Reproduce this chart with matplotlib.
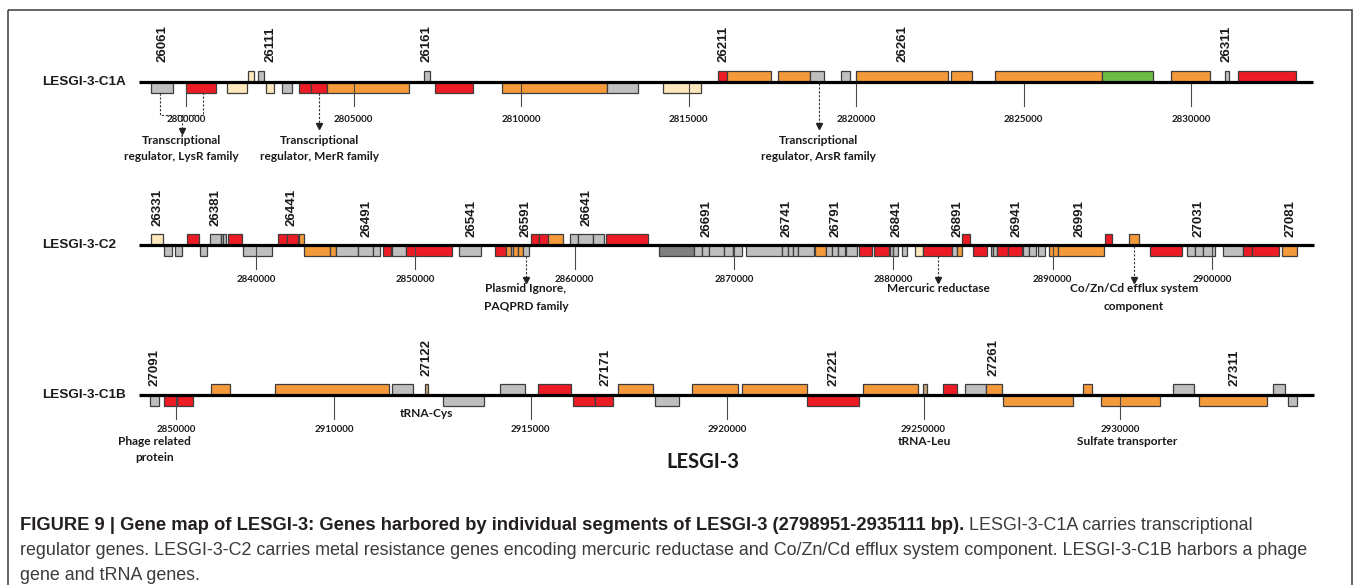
import matplotlib
matplotlib.use("Agg")
import matplotlib.pyplot as plt
from matplotlib.patches import Rectangle

W, H, DPI = 1358, 585, 100

# ---------------------------------------------------------------- data
# gene kinds: R red, O orange, G grey, D dark grey, C cream, N green, T tRNA
KIND_COLORS = {"R": "#ED1C24", "O": "#F49A3A", "G": "#BFBFBF", "D": "#808080",
               "C": "#FDE7BC", "N": "#6CBD45", "T": "#C8A77A"}

# LESGI-3-C1A
c1a_span = (2798597, 2833642)
c1a_start = [2798951, 2799991, 2801215, 2801860, 2802140, 2802388, 2802866, 2803382,
             2803722, 2804218, 2807095, 2807442, 2809424, 2812558, 2814248, 2815872,
             2816140, 2817681, 2818627, 2819552, 2820000, 2822836, 2824149, 2827343,
             2829393, 2831015, 2831412]
c1a_end = [2799603, 2800896, 2801821, 2802030, 2802337, 2802627, 2803164, 2803722,
           2804218, 2806648, 2807293, 2808576, 2812558, 2813483, 2815373, 2816140,
           2817463, 2818627, 2819054, 2819821, 2822737, 2823453, 2827343, 2828856,
           2830567, 2831143, 2833134]
c1a_strand = [-1, -1, -1, 1, 1, -1, -1, -1, -1, -1, 1, -1, -1, -1, -1, 1,
              1, 1, 1, 1, 1, 1, 1, 1, 1, 1, 1]
c1a_kind = ["G", "R", "C", "C", "G", "C", "G", "R", "R", "O", "G", "R", "O", "G", "C", "R",
            "O", "O", "G", "G", "O", "O", "O", "N", "O", "G", "R"]
c1a_ticks = [2800000, 2805000, 2810000, 2815000, 2820000, 2825000, 2830000]
c1a_tick_labels = ["2800000", "2805000", "2810000", "2815000", "2820000", "2825000", "2830000"]
c1a_ids = ["26061", "26111", "26161", "26211", "26261", "26311"]
c1a_id_pos = [2799313, 2802528, 2807194, 2816030, 2821394, 2831066]

# LESGI-3-C2
c2_span = (2832657, 2906400)
c2_start = [2833410, 2834226, 2834916, 2835670, 2836504, 2837113, 2837785, 2837910, 2838262,
            2839165, 2841381, 2841964, 2842718, 2843031, 2844644, 2845002, 2846383, 2847362,
            2847971, 2848554, 2849414, 2852740, 2855000, 2855690, 2856004, 2856148, 2856462,
            2856738, 2857259, 2857780, 2858345, 2859688, 2860190, 2861169, 2861966, 2865292,
            2867508, 2868010, 2868449, 2869391, 2869918, 2870752, 2873031, 2873369, 2873683,
            2873997, 2875083, 2875754, 2876131, 2876545, 2877028, 2877844, 2878805, 2879790,
            2879997, 2880524, 2881359, 2881880, 2883662, 2883976, 2884327, 2885018, 2886110,
            2886273, 2886524, 2887214, 2888118, 2888513, 2889097, 2889788, 2890315, 2893283,
            2894789, 2896107, 2898411, 2898932, 2899453, 2900670, 2901925, 2902528, 2904373]
c2_end = [2834182, 2834709, 2835356, 2836404, 2836925, 2837785, 2837910, 2838098, 2839103,
          2841023, 2841964, 2842617, 2843031, 2844644, 2845002, 2846383, 2847362, 2847782,
          2848454, 2849414, 2852301, 2854121, 2855690, 2856004, 2856148, 2856462, 2856738,
          2857152, 2857780, 2858307, 2859249, 2860190, 2861169, 2861859, 2864583, 2867508,
          2868010, 2868449, 2869391, 2869918, 2870482, 2873031, 2873369, 2873683, 2873997,
          2875020, 2875754, 2876131, 2876545, 2876966, 2877738, 2878641, 2879746, 2879997,
          2880311, 2880838, 2881880, 2883662, 2883976, 2884290, 2884811, 2885859, 2886273,
          2886524, 2887214, 2888055, 2888513, 2888934, 2889518, 2890315, 2893239, 2893704,
          2895417, 2898097, 2898932, 2899453, 2900187, 2901925, 2902528, 2904203, 2905314]
c2_strand = ([1, -1, -1, 1, -1, 1, 1, 1, 1, -1, 1, 1, 1]
             + [-1] * 15 + [1] * 7 + [-1] * 25 + [1] + [-1] * 10 + [1, 1] + [-1] * 8)
c2_kind = ["C", "G", "G", "R", "G", "G", "G", "G", "R", "G", "R", "R", "O", "O", "O", "G",
           "G", "G", "R", "G", "R", "G", "R", "O", "G", "O", "O", "G", "R", "R", "O", "G",
           "G", "G", "R", "D", "G", "G", "G", "G", "G", "G", "G", "G", "G", "G", "O", "G",
           "G", "G", "G", "R", "R", "G", "G", "G", "C", "R", "G", "O", "R", "R", "G", "G",
           "R", "R", "G", "G", "G", "O", "O", "R", "O", "R", "G", "G", "G", "G", "R", "R", "O"]
c2_ticks = [2840000, 2850000, 2860000, 2870000, 2880000, 2890000, 2900000]
c2_tick_labels = ["2840000", "2850000", "2860000", "2870000", "2880000", "2890000", "2900000"]
c2_ids = ["26331", "26381", "26441", "26491", "26541", "26591", "26641", "26691",
          "26741", "26791", "26841", "26891", "26941", "26991", "27031", "27081"]
c2_id_pos = [2833787, 2837471, 2842241, 2846904, 2853537, 2856945, 2860755, 2868286,
             2873307, 2876382, 2880210, 2884014, 2887741, 2891714, 2899183, 2904938]

# LESGI-3-C1B
c1b_span = (2905038, 2934936)
c1b_start = [2905310, 2905674, 2905997, 2906870, 2908506, 2911476, 2912323, 2912766, 2914232,
             2915183, 2916089, 2916641, 2917234, 2918176, 2919117, 2920389, 2922028, 2923453,
             2924980, 2925504, 2926056, 2926583, 2927030, 2929051, 2929516, 2931356, 2932010,
             2933885, 2934282]
c1b_end = [2905555, 2905997, 2906420, 2907354, 2911407, 2912018, 2912399, 2913824, 2914852,
           2916030, 2916641, 2917107, 2918125, 2918786, 2920287, 2922028, 2923359, 2924852,
           2925081, 2925860, 2926583, 2927005, 2928796, 2929280, 2931017, 2931890, 2933733,
           2934198, 2934496]
c1b_strand = [-1, -1, -1, 1, 1, 1, 1, -1, 1, 1, -1, -1, 1, -1, 1, 1, -1, 1, 1, 1, 1, 1,
              -1, 1, -1, 1, -1, 1, -1]
c1b_kind = ["G", "R", "R", "O", "O", "G", "T", "G", "G", "R", "R", "R", "O", "G", "O", "O",
            "R", "O", "T", "R", "G", "O", "O", "O", "O", "G", "O", "G", "G"]
c1b_ticks = [2905980, 2910000, 2915000, 2920000, 2925000, 2930000]
c1b_tick_labels = ["2850000", "2910000", "2915000", "2920000", "29250000", "2930000"]
c1b_ids = ["27091", "27122", "27171", "27221", "27261", "27311"]
c1b_id_pos = [2905445, 2912359, 2916896, 2922705, 2926776, 2932908]

CAPTION_BOLD = ("FIGURE 9 | Gene map of LESGI-3: Genes harbored by individual segments "
                "of LESGI-3 (2798951-2935111 bp).")
CAPTION_LINES = ["LESGI-3-C1A carries transcriptional",
                 "regulator genes. LESGI-3-C2 carries metal resistance genes encoding mercuric "
                 "reductase and Co/Zn/Cd efflux system component. LESGI-3-C1B harbors a phage",
                 "gene and tRNA genes."]

# ---------------------------------------------------------------- layout
tracks = [
    dict(name="LESGI-3-C1A", span=c1a_span, start=c1a_start, end=c1a_end,
         strand=c1a_strand, kind=c1a_kind, ticks=c1a_ticks, tick_labels=c1a_tick_labels,
         ids=c1a_ids, id_pos=c1a_id_pos, anchor=(186, 2800000), bpp=5000 / 167.5,
         y=81.5, tick_y=119, flat_ids=True,
         notes=[dict(x=2799872, text="Transcriptional\nregulator, LysR family", ty=141,
                     arrow=(115, 133), bracket=(2799224, 2800507, 92.5)),
                dict(x=2803979, text="Transcriptional\nregulator, MerR family", ty=141,
                     arrow=(92.5, 128)),
                dict(x=2818886, text="Transcriptional\nregulator, ArsR family", ty=141,
                     arrow=(82.5, 128))],
         note_dy=16),
    dict(name="LESGI-3-C2", span=c2_span, start=c2_start, end=c2_end,
         strand=c2_strand, kind=c2_kind, ticks=c2_ticks, tick_labels=c2_tick_labels,
         ids=c2_ids, id_pos=c2_id_pos, anchor=(256, 2840000), bpp=10000 / 159.33,
         y=245, tick_y=280, flat_ids=False,
         notes=[dict(x=2856945, text="Plasmid Ignore,\nPAQPRD family", ty=289,
                     arrow=(256, 282)),
                dict(x=2882821, text="Mercuric reductase", ty=289, arrow=(256, 282)),
                dict(x=2895103, text="Co/Zn/Cd efflux system\ncomponent", ty=289,
                     arrow=(246, 282))],
         note_dy=17),
    dict(name="LESGI-3-C1B", span=c1b_span, start=c1b_start, end=c1b_end,
         strand=c1b_strand, kind=c1b_kind, ticks=c1b_ticks, tick_labels=c1b_tick_labels,
         ids=c1b_ids, id_pos=c1b_id_pos, anchor=(334, 2910000), bpp=5000 / 196.5,
         y=394.5, tick_y=430, flat_ids=False,
         notes=[dict(x=2905433, text="Phage related\nprotein", ty=441.5),
                dict(x=2912359, text="tRNA-Cys", ty=413.5),
                dict(x=2925020, text="tRNA-Leu", ty=441.5),
                dict(x=2930185, text="Sulfate transporter", ty=441.5)],
         note_dy=15.6),
]

GENE_H = 11
TICK_LEN = 24
ID_GAP = 8
NUM_FONT = "Liberation Sans"
LABEL_FONT = "Lato"
CAPTION_BOLD_SIZE = 13.2
CAPTION_SIZE = 12.85

fig = plt.figure(figsize=(W / DPI, H / DPI), dpi=DPI)
fig.patch.set_facecolor("white")

# pixel-space overlay for frame, names and caption
base = fig.add_axes([0, 0, 1, 1])
base.set_xlim(0, W)
base.set_ylim(H, 0)
base.axis("off")
base.add_patch(Rectangle((8, 10), 1344, 620, fill=False, edgecolor="#3a3a3a",
                         lw=1.1, clip_on=False))

for tr in tracks:
    ax = fig.add_axes([0, 0, 1, 1])
    ax.patch.set_alpha(0)
    px0, bp0 = tr["anchor"]
    bpp = tr["bpp"]
    ax.set_xlim(bp0 - px0 * bpp, bp0 + (W - px0) * bpp)
    ax.set_ylim(H, 0)
    ax.axis("off")
    y = tr["y"]

    # backbone
    ax.plot(tr["span"], [y, y], color="black", lw=2.3, solid_capstyle="butt", zorder=5)

    # genes
    for s, e, st, k in zip(tr["start"], tr["end"], tr["strand"], tr["kind"]):
        y0 = y - GENE_H if st > 0 else y
        ax.add_patch(Rectangle((s, y0), e - s, GENE_H, facecolor=KIND_COLORS[k],
                               edgecolor="#3d3d3d", lw=0.9, zorder=3))

    # coordinate ticks
    for t, lab in zip(tr["ticks"], tr["tick_labels"]):
        ax.plot([t, t], [y, y + TICK_LEN], color="#4a4a4a", lw=0.8, zorder=4)
        ax.text(t, tr["tick_y"], lab, ha="center", va="center", fontsize=7,
                fontfamily=LABEL_FONT, fontweight="bold", color="#1a1a1a")

    # gene identifiers
    for gid, p in zip(tr["ids"], tr["id_pos"]):
        covered = any(st > 0 and s <= p <= e for s, e, st in
                      zip(tr["start"], tr["end"], tr["strand"]))
        base_y = y - GENE_H if (covered or tr["flat_ids"]) else y
        ax.text(p, base_y - ID_GAP, gid, rotation=90, ha="center", va="bottom",
                fontsize=9.5, fontfamily=NUM_FONT, fontweight="bold", color="#1a1a1a")

    # functional annotations
    for n in tr["notes"]:
        for i, line in enumerate(n["text"].split("\n")):
            ax.text(n["x"], n["ty"] + i * tr["note_dy"], line, ha="center", va="center",
                    fontsize=8.6, fontfamily=LABEL_FONT, fontweight="bold", color="#1a1a1a")
        if "bracket" in n:
            xa, xb, yb = n["bracket"]
            yl = n["arrow"][0]
            ax.plot([xa, xa, xb, xb], [yb, yl, yl, yb], color="#333333", lw=0.8,
                    ls=(0, (2, 1.5)), zorder=4)
        if "arrow" in n:
            a0, a1 = n["arrow"]
            ax.plot([n["x"], n["x"]], [a0, a1 - 3], color="#333333", lw=0.8,
                    ls=(0, (2, 1.5)), zorder=4)
            ax.plot([n["x"]], [a1 - 2], marker="v", ms=4, color="#222222", zorder=4)

    base.text(42.5, y + 0.5, tr["name"], ha="left", va="center", fontsize=9.7,
              fontfamily=NUM_FONT, fontweight="bold", color="#1a1a1a")

base.text(703, 462, "LESGI-3", ha="center", va="center", fontsize=14.5,
          fontfamily=LABEL_FONT, fontweight="bold", color="#1a1a1a")

# caption
cap_x, cap_y, cap_dy = 20, 525, 25.5
renderer = fig.canvas.get_renderer()
bold = base.text(cap_x, cap_y, CAPTION_BOLD, ha="left", va="center",
                 fontsize=CAPTION_BOLD_SIZE, fontfamily="Liberation Sans",
                 fontweight="bold", color="#231f20")
bb = bold.get_window_extent(renderer=renderer)
base.text(bb.x1 + 5, cap_y, CAPTION_LINES[0], ha="left", va="center", fontsize=CAPTION_SIZE,
          fontfamily="Liberation Sans", color="#3c3c3c")
for i, line in enumerate(CAPTION_LINES[1:], start=1):
    base.text(cap_x, cap_y + i * cap_dy, line, ha="left", va="center", fontsize=CAPTION_SIZE,
              fontfamily="Liberation Sans", color="#3c3c3c")

fig.savefig("out.png", dpi=DPI, facecolor="white")
